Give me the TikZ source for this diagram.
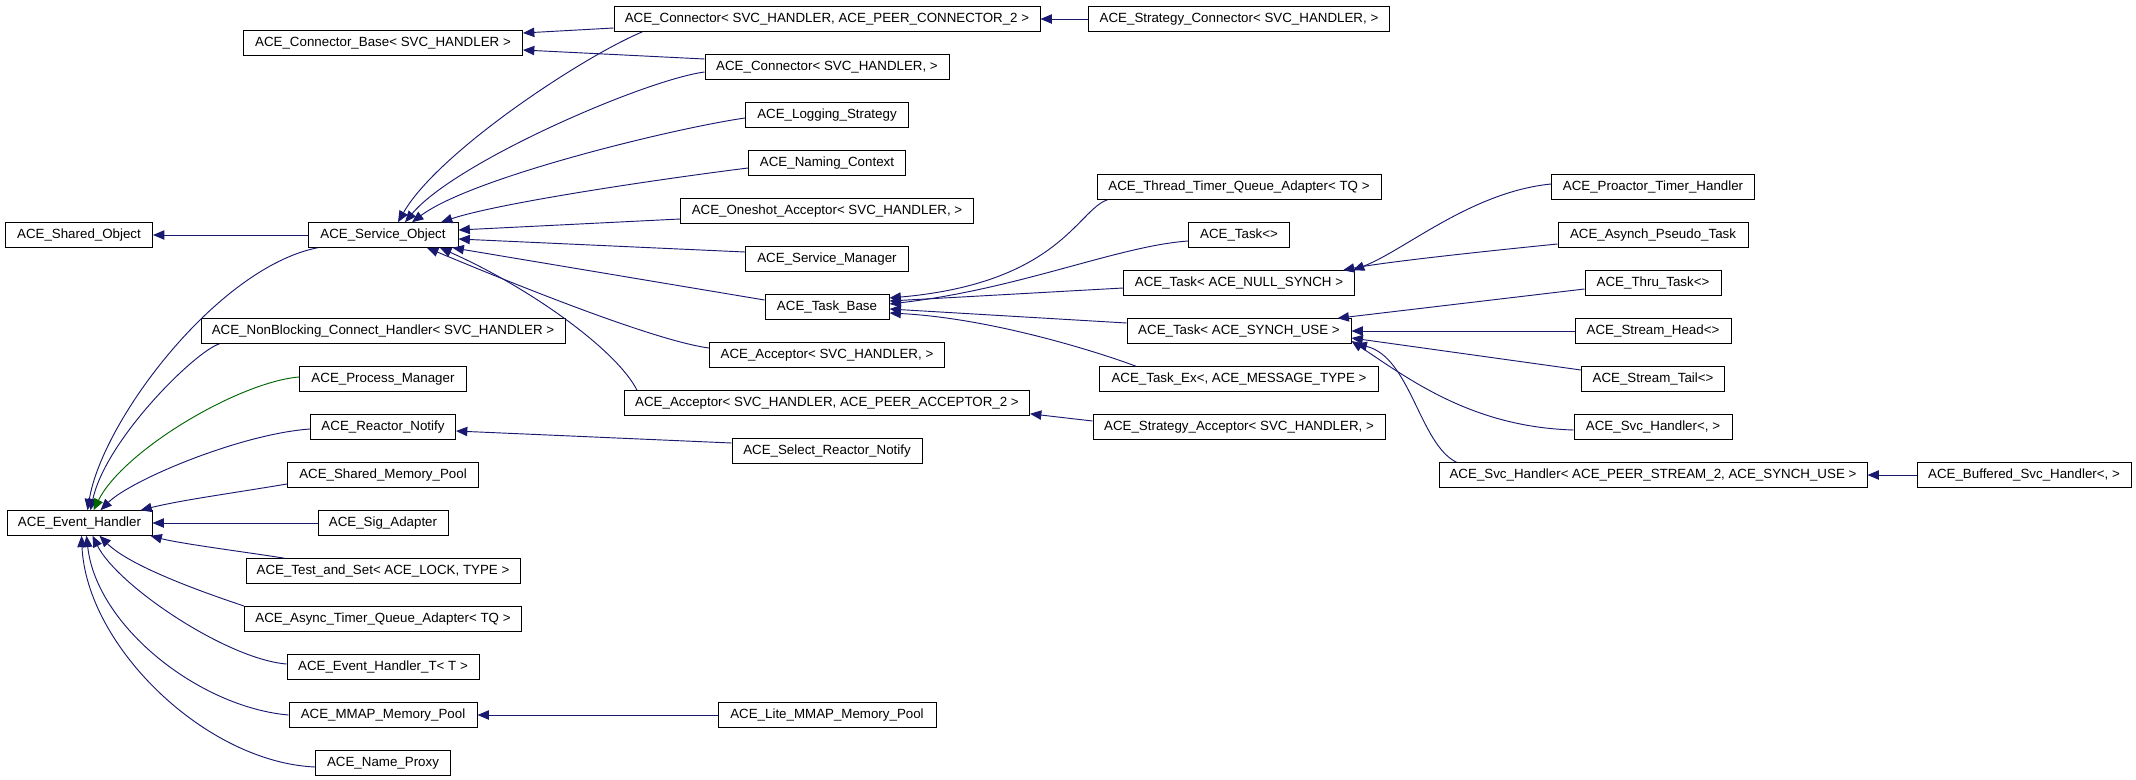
\documentclass[tikz,border=0pt]{standalone}
\usepackage{fontspec}
\setmainfont{Liberation Sans}
\usepackage{tikz}
\usetikzlibrary{arrows.meta}
\definecolor{edgeblue}{HTML}{191970}
\definecolor{edgegreen}{HTML}{006400}

\begin{document}
\begin{tikzpicture}[x=0.75pt,y=-0.75pt,
  cls/.style={draw=black, fill=white, line width=0.75pt, inner sep=0pt,
    minimum height=18.4pt, font=\fontsize{10pt}{12pt}\selectfont},
  wd/.style={minimum width=#1*0.75pt},
  inh/.style={draw=edgeblue, line width=0.7pt,
    -{Triangle[length=8.5pt,width=7pt,fill=edgeblue]}},
  inhg/.style={inh, draw=edgegreen,
    -{Triangle[length=8.5pt,width=7pt,fill=edgegreen]}}]
\path[use as bounding box, fill=white] (0,0) rectangle (2136,779);

% left column
\node[cls, wd=147] (shared) at (79,235) {ACE\_Shared\_Object};
\node[cls, wd=145] (evh) at (79.5,523) {ACE\_Event\_Handler};

% second column
\node[cls, wd=279] (connbase) at (383,43) {ACE\_Connector\_Base< SVC\_HANDLER >};
\node[cls, wd=150] (service) at (383,235) {ACE\_Service\_Object};
\node[cls, wd=364] (nonblock) at (383,331) {ACE\_NonBlocking\_Connect\_Handler< SVC\_HANDLER >};
\node[cls, wd=167] (procmgr) at (383,379) {ACE\_Process\_Manager};
\node[cls, wd=145] (reactor) at (383,427) {ACE\_Reactor\_Notify};
\node[cls, wd=191] (shmem) at (383,475) {ACE\_Shared\_Memory\_Pool};
\node[cls, wd=130] (sig) at (383,523) {ACE\_Sig\_Adapter};
\node[cls, wd=274] (testset) at (383,571) {ACE\_Test\_and\_Set< ACE\_LOCK, TYPE >};
\node[cls, wd=277] (asynctq) at (383,619) {ACE\_Async\_Timer\_Queue\_Adapter< TQ >};
\node[cls, wd=192] (evht) at (383,667) {ACE\_Event\_Handler\_T< T >};
\node[cls, wd=188] (mmap) at (383,715) {ACE\_MMAP\_Memory\_Pool};
\node[cls, wd=135] (nameproxy) at (383,763) {ACE\_Name\_Proxy};

% third column
\node[cls, wd=426] (connpeer) at (827,19) {ACE\_Connector< SVC\_HANDLER, ACE\_PEER\_CONNECTOR\_2 >};
\node[cls, wd=244] (connsvc) at (827,67) {ACE\_Connector< SVC\_HANDLER, >};
\node[cls, wd=163] (logging) at (827,115) {ACE\_Logging\_Strategy};
\node[cls, wd=157] (naming) at (827,163) {ACE\_Naming\_Context};
\node[cls, wd=293] (oneshot) at (827,211) {ACE\_Oneshot\_Acceptor< SVC\_HANDLER, >};
\node[cls, wd=163] (svcmgr) at (827,259) {ACE\_Service\_Manager};
\node[cls, wd=124] (taskbase) at (827,307) {ACE\_Task\_Base};
\node[cls, wd=235] (accsvc) at (827,355) {ACE\_Acceptor< SVC\_HANDLER, >};
\node[cls, wd=405] (accpeer) at (827,403) {ACE\_Acceptor< SVC\_HANDLER, ACE\_PEER\_ACCEPTOR\_2 >};
\node[cls, wd=190] (selnotify) at (827,451) {ACE\_Select\_Reactor\_Notify};
\node[cls, wd=218] (litemmap) at (827,715) {ACE\_Lite\_MMAP\_Memory\_Pool};

% fourth column
\node[cls, wd=301] (stratconn) at (1239,19) {ACE\_Strategy\_Connector< SVC\_HANDLER, >};
\node[cls, wd=284] (threadtq) at (1239,187) {ACE\_Thread\_Timer\_Queue\_Adapter< TQ >};
\node[cls, wd=101] (task) at (1239,235) {ACE\_Task<>};
\node[cls, wd=231] (tasknull) at (1239,283) {ACE\_Task< ACE\_NULL\_SYNCH >};
\node[cls, wd=224] (tasksynch) at (1239,331) {ACE\_Task< ACE\_SYNCH\_USE >};
\node[cls, wd=279] (taskex) at (1239,379) {ACE\_Task\_Ex<, ACE\_MESSAGE\_TYPE >};
\node[cls, wd=292] (stratacc) at (1239,427) {ACE\_Strategy\_Acceptor< SVC\_HANDLER, >};

% fifth column
\node[cls, wd=203] (proactor) at (1653,187) {ACE\_Proactor\_Timer\_Handler};
\node[cls, wd=190] (asynch) at (1653,235) {ACE\_Asynch\_Pseudo\_Task};
\node[cls, wd=136] (thru) at (1653,283) {ACE\_Thru\_Task<>};
\node[cls, wd=156] (shead) at (1653,331) {ACE\_Stream\_Head<>};
\node[cls, wd=143] (stail) at (1653,379) {ACE\_Stream\_Tail<>};
\node[cls, wd=158] (svch) at (1653,427) {ACE\_Svc\_Handler<, >};
\node[cls, wd=428] (svcpeer) at (1653,475) {ACE\_Svc\_Handler< ACE\_PEER\_STREAM\_2, ACE\_SYNCH\_USE >};
\node[cls, wd=214] (buffered) at (2024,475) {ACE\_Buffered\_Svc\_Handler<, >};

% inheritance into the upper part
\draw[inh] (service.west) -- (shared.east);
\draw[inh] ([shift={(0,9)}]connpeer.west) -- ([shift={(0,-10)}]connbase.east);
\draw[inh] ([shift={(0,-8)}]connsvc.west) -- ([shift={(0,7)}]connbase.east);
\draw[inh] (stratconn.west) -- (connpeer.east);
\draw[inh] ([shift={(29,0)}]connpeer.south west) .. controls +(-60,25) and +(40,-70) .. ([shift={(15,0)}]service.north);
\draw[inh] ([shift={(0,5)}]connsvc.west) .. controls +(-60,8) and +(50,-60) .. ([shift={(22,0)}]service.north);
\draw[inh] ([shift={(0,3)}]logging.west) .. controls +(-70,10) and +(60,-45) .. ([shift={(29,0)}]service.north);
\draw[inh] ([shift={(0,5)}]naming.west) .. controls +(-80,10) and +(60,-20) .. ([shift={(58,0)}]service.north);
\draw[inh] ([shift={(0,8)}]oneshot.west) -- ([shift={(0,-5)}]service.east);
\draw[inh] ([shift={(0,-7)}]svcmgr.west) -- ([shift={(0,4)}]service.east);
\draw[inh] ([shift={(0,-7)}]taskbase.west) -- ([shift={(-6,0)}]service.south east);
\draw[inh] ([shift={(0,-7)}]accsvc.west) .. controls +(-60,-8) and +(60,25) .. ([shift={(44,0)}]service.south);
\draw[inh] ([shift={(13,0)}]accpeer.north west) .. controls +(-20,-40) and +(90,40) .. ([shift={(57,0)}]service.south);
\draw[inh] ([shift={(0,-6)}]stratacc.west) -- ([shift={(0,-2)}]accpeer.south east);

% inheritance into ACE_Event_Handler
\draw[inh] ([shift={(10,0)}]service.south west) .. controls +(-100,20) and +(15,-90) .. ([shift={(8,0)}]evh.north);
\draw[inh] ([shift={(19,0)}]nonblock.south west) .. controls +(-25,8) and +(15,-70) .. ([shift={(11,0)}]evh.north);
\draw[inhg] ([shift={(0,-2)}]procmgr.west) .. controls +(-60,5) and +(30,-60) .. ([shift={(14,0)}]evh.north);
\draw[inh] ([shift={(0,2)}]reactor.west) .. controls +(-70,5) and +(30,-30) .. ([shift={(21,0)}]evh.north);
\draw[inh] ([shift={(0,9)}]shmem.west) .. controls +(-60,10) and +(40,-10) .. ([shift={(-12,0)}]evh.north east);
\draw[inh] (sig.west) -- (evh.east);
\draw[inh] ([shift={(39,0)}]testset.north west) .. controls +(-30,-5) and +(30,8) .. ([shift={(-2,0)}]evh.south east);
\draw[inh] ([shift={(0,-13)}]asynctq.west) .. controls +(-45,-15) and +(30,30) .. ([shift={(20,0)}]evh.south);
\draw[inh] ([shift={(0,-3)}]evht.west) .. controls +(-60,-5) and +(25,50) .. ([shift={(13,0)}]evh.south);
\draw[inh] (mmap.west) .. controls +(-90,-8) and +(10,90) .. ([shift={(7,0)}]evh.south);
\draw[inh] ([shift={(0,4)}]nameproxy.west) .. controls +(-110,-5) and +(5,110) .. ([shift={(2,0)}]evh.south);
\draw[inh] (litemmap.west) -- (mmap.east);
\draw[inh] ([shift={(0,-8)}]selnotify.west) -- ([shift={(0,4)}]reactor.east);

% inheritance into ACE_Task_Base
\draw[inh] ([shift={(11,0)}]threadtq.south west) .. controls +(-30,10) and +(170,-15) .. ([shift={(0,-9)}]taskbase.east);
\draw[inh] ([shift={(0,6)}]task.west) .. controls +(-70,5) and +(130,-15) .. ([shift={(0,-3)}]taskbase.east);
\draw[inh] ([shift={(0,5)}]tasknull.west) -- ([shift={(0,-6)}]taskbase.east);
\draw[inh] ([shift={(0,-8)}]tasksynch.west) -- ([shift={(0,2)}]taskbase.east);
\draw[inh] ([shift={(37,0)}]taskex.north west) .. controls +(-40,-15) and +(100,5) .. ([shift={(0,6)}]taskbase.east);

% inheritance into the two ACE_Task instances
\draw[inh] ([shift={(0,-3)}]proactor.west) .. controls +(-80,8) and +(52,-20) .. ([shift={(-2,0)}]tasknull.north east);
\draw[inh] ([shift={(0,9)}]asynch.west) .. controls +(-80,8) and +(40,-8) .. ([shift={(-12,0)}]tasknull.north east);
\draw[inh] ([shift={(0,6)}]thru.west) -- ([shift={(-14,0)}]tasksynch.north east);
\draw[inh] (shead.west) -- (tasksynch.east);
\draw[inh] ([shift={(0,-9)}]stail.west) -- ([shift={(0,7)}]tasksynch.east);
\draw[inh] ([shift={(0,3)}]svch.west) .. controls +(-100,-3) and +(60,40) .. ([shift={(0,10)}]tasksynch.east);
\draw[inh] ([shift={(18,0)}]svcpeer.north west) .. controls +(-37,-18) and +(55,13) .. ([shift={(4,0)}]tasksynch.south east);
\draw[inh] (buffered.west) -- (svcpeer.east);
\end{tikzpicture}
\end{document}
